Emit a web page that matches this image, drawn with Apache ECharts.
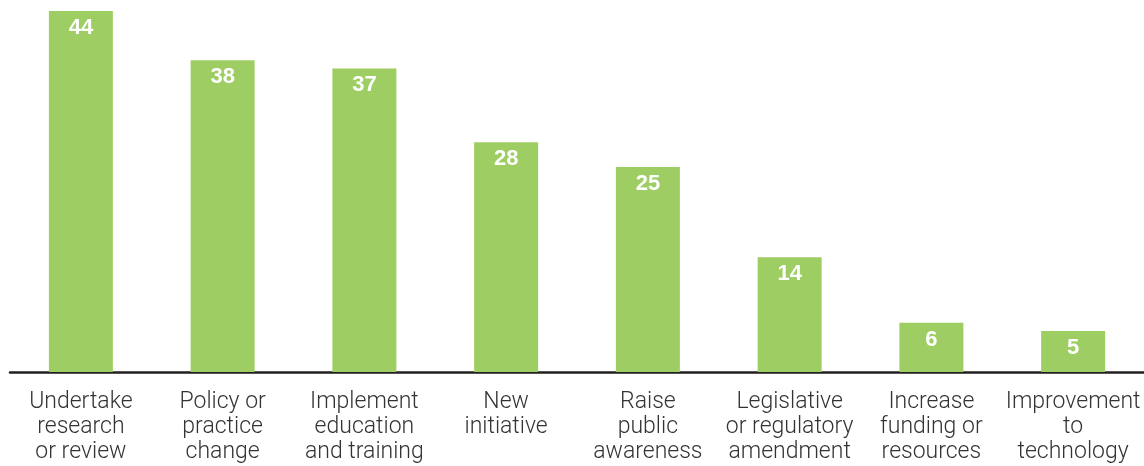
<!DOCTYPE html>
<html>
<head>
<meta charset="utf-8">
<script src="https://cdn.jsdelivr.net/npm/echarts@6/dist/echarts.min.js"></script>
<style>
  html, body { margin: 0; padding: 0; background: #ffffff; }
  #chart { width: 1144px; height: 466px; }
</style>
</head>
<body>
<div id="chart"></div>
<script>
// Actions taken in response to recommendations
const categories = [
  'Undertake\nresearch\nor review',
  'Policy or\npractice\nchange',
  'Implement\neducation\nand training',
  'New\ninitiative',
  'Raise\npublic\nawareness',
  'Legislative\nor regulatory\namendment',
  'Increase\nfunding or\nresources',
  'Improvement\nto\ntechnology'
];
const counts = [44, 38, 37, 28, 25, 14, 6, 5];

const chart = echarts.init(document.getElementById('chart'), null, { renderer: 'canvas' });
chart.setOption({
  animation: false,
  grid: { left: 10, right: -2, top: 11, bottom: 94, containLabel: false },
  xAxis: {
    type: 'category',
    data: categories,
    axisLine: { show: true, lineStyle: { color: '#231f20', width: 2.5 } },
    axisTick: { show: false },
    axisLabel: {
      interval: 0,
      margin: 18,
      color: '#333333',
      fontFamily: 'Roboto',
      fontWeight: 300,
      fontSize: 23,
      lineHeight: 25,
      align: 'center'
    }
  },
  yAxis: {
    type: 'value',
    min: 0,
    max: 44,
    show: false,
    splitLine: { show: false }
  },
  series: [{
    type: 'bar',
    data: counts,
    barWidth: 64,
    itemStyle: { color: '#9ece63' },
    label: {
      show: true,
      position: 'insideTop',
      distance: 6,
      color: '#ffffff',
      fontFamily: 'Liberation Sans',
      fontWeight: 'bold',
      fontSize: 22
    }
  }]
});
</script>
</body>
</html>
